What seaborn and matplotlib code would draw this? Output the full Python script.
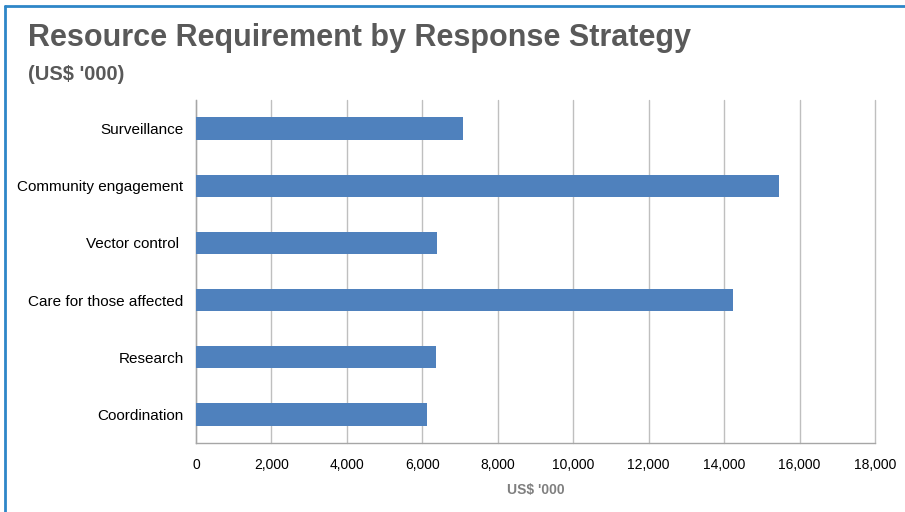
import matplotlib
matplotlib.use("Agg")
import matplotlib.pyplot as plt
from matplotlib.lines import Line2D
from matplotlib.ticker import FuncFormatter, MultipleLocator
from matplotlib import font_manager
import seaborn as sns
import pandas as pd

categories = ["Surveillance", "Community engagement", "Vector control ",
              "Care for those affected", "Research", "Coordination"]
values = [7080, 15460, 6390, 14240, 6360, 6120]

df = pd.DataFrame({"strategy": categories, "amount": values})

sns.set_theme(style="white")
plt.rcParams["font.family"] = ["Liberation Sans", "DejaVu Sans"]

names = {f.name for f in font_manager.fontManager.ttflist}
narrow = "Liberation Sans Narrow" in names

fig = plt.figure(figsize=(9.05, 5.12), dpi=100)
ax = fig.add_axes([196/905, 1-443/512, (875-196)/905, (443-100)/512])

sns.barplot(data=df, x="amount", y="strategy", orient="h", color="#4F81BD",
            saturation=1, width=0.39, ax=ax, zorder=3, edgecolor="none",
            linewidth=0)

ax.set_xlim(0, 18000)
ax.xaxis.set_major_locator(MultipleLocator(2000))
ax.xaxis.set_major_formatter(FuncFormatter(lambda v, p: f"{int(v):,}"))
ax.grid(axis="x", color="#BFBFBF", linewidth=1.0, zorder=0)
for gl in ax.get_xgridlines():
    gl.set_clip_on(False)
ax.set_axisbelow(True)
for s in ["top", "right"]:
    ax.spines[s].set_visible(False)
for s in ["left", "bottom"]:
    ax.spines[s].set_color("#A6A6A6")
    ax.spines[s].set_linewidth(1.0)

if narrow:
    xfam = ["Liberation Sans Narrow", "Liberation Sans"]
    xsize = 11
else:
    xfam = ["Liberation Sans", "DejaVu Sans"]
    xsize = 10

ax.set_ylabel("")
ax.set_xlabel("US$ '000", fontsize=xsize, fontweight="bold", color="#7F7F7F",
              family=xfam, labelpad=8)
ax.tick_params(axis="y", length=0, pad=9, labelsize=11, labelcolor="#000000")
ax.tick_params(axis="x", length=0, pad=11, labelsize=xsize, labelcolor="#000000")
for lab in ax.get_xticklabels():
    lab.set_family(xfam)

fig.text(28/905, 1-38/512, "Resource Requirement by Response Strategy",
         fontsize=22, fontweight="bold", color="#595959", va="center", ha="left")
fig.text(28/905, 1-74/512, "(US$ '000)", fontsize=14.5, fontweight="bold",
         color="#595959", va="center", ha="left")

# frame lines
fig.add_artist(Line2D([5/905, 1.0], [1-6/512, 1-6/512], color="#2E86C8",
                      linewidth=2, transform=fig.transFigure))
fig.add_artist(Line2D([5/905, 5/905], [0, 1-6/512], color="#2E86C8",
                      linewidth=2, transform=fig.transFigure))

fig.savefig("out.png", dpi=100)
